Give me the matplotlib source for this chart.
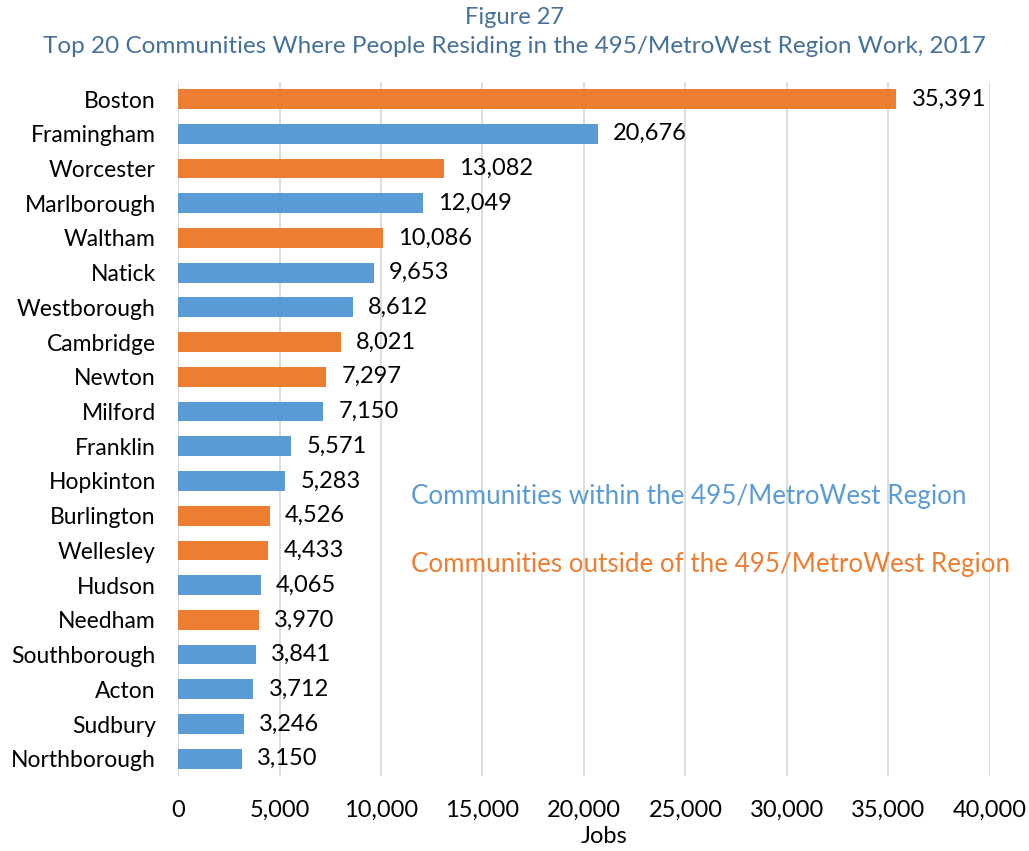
import matplotlib.pyplot as plt

plt.rcParams['font.family'] = ['Lato', 'DejaVu Sans']

towns = ['Boston', 'Framingham', 'Worcester', 'Marlborough', 'Waltham', 'Natick',
         'Westborough', 'Cambridge', 'Newton', 'Milford', 'Franklin', 'Hopkinton',
         'Burlington', 'Wellesley', 'Hudson', 'Needham', 'Southborough', 'Acton',
         'Sudbury', 'Northborough']
jobs = [35391, 20676, 13082, 12049, 10086, 9653, 8612, 8021, 7297, 7150,
        5571, 5283, 4526, 4433, 4065, 3970, 3841, 3712, 3246, 3150]
inside = [False, True, False, True, False, True, True, False, False, True,
          True, True, False, False, True, False, True, True, True, True]

blue = '#5B9BD5'
orange = '#ED7D31'
colors = [blue if i else orange for i in inside]

fig = plt.figure(figsize=(10.29, 8.51), dpi=100)
ax = fig.add_axes([0.173, 0.088, 0.789, 0.816])

y = range(len(towns))
ax.barh(y, jobs, height=0.57, color=colors, zorder=2)
for yi, v in zip(y, jobs):
    ax.annotate(f'{v:,}', (v, yi), xytext=(11, 0), textcoords='offset points',
                va='center', ha='left', fontsize=17, color='black')

ax.set_ylim(len(towns) - 0.5, -0.5)
ax.set_xlim(0, 40000)
ax.set_xticks(range(0, 40001, 5000))
ax.set_xticklabels([f'{t:,}' for t in range(0, 40001, 5000)], fontsize=17)
ax.set_yticks(list(y))
ax.set_yticklabels(towns, fontsize=16.5)
ax.tick_params(length=0)
ax.tick_params(axis='x', pad=17)
ax.tick_params(axis='y', pad=16)
ax.grid(axis='x', color='#D9D9D9', linewidth=1.3, zorder=0)
ax.set_axisbelow(True)
for s in ax.spines.values():
    s.set_visible(False)
ax.set_xlabel('Jobs', fontsize=17, labelpad=0)
ax.xaxis.set_label_coords(0.525, -0.072)

title_color = '#44709A'
fig.text(0.5, 0.979, 'Figure 27', ha='center', va='center', fontsize=17, color=title_color)
fig.text(0.5, 0.945, 'Top 20 Communities Where People Residing in the 495/MetroWest Region Work, 2017',
         ha='center', va='center', fontsize=17.5, color=title_color)

ax.text(11500, 11.45, 'Communities within the 495/MetroWest Region', fontsize=18.7,
        color=blue, va='center', ha='left')
ax.text(11500, 13.4, 'Communities outside of the 495/MetroWest Region', fontsize=18.7,
        color=orange, va='center', ha='left')

fig.savefig('out.png', dpi=100)
